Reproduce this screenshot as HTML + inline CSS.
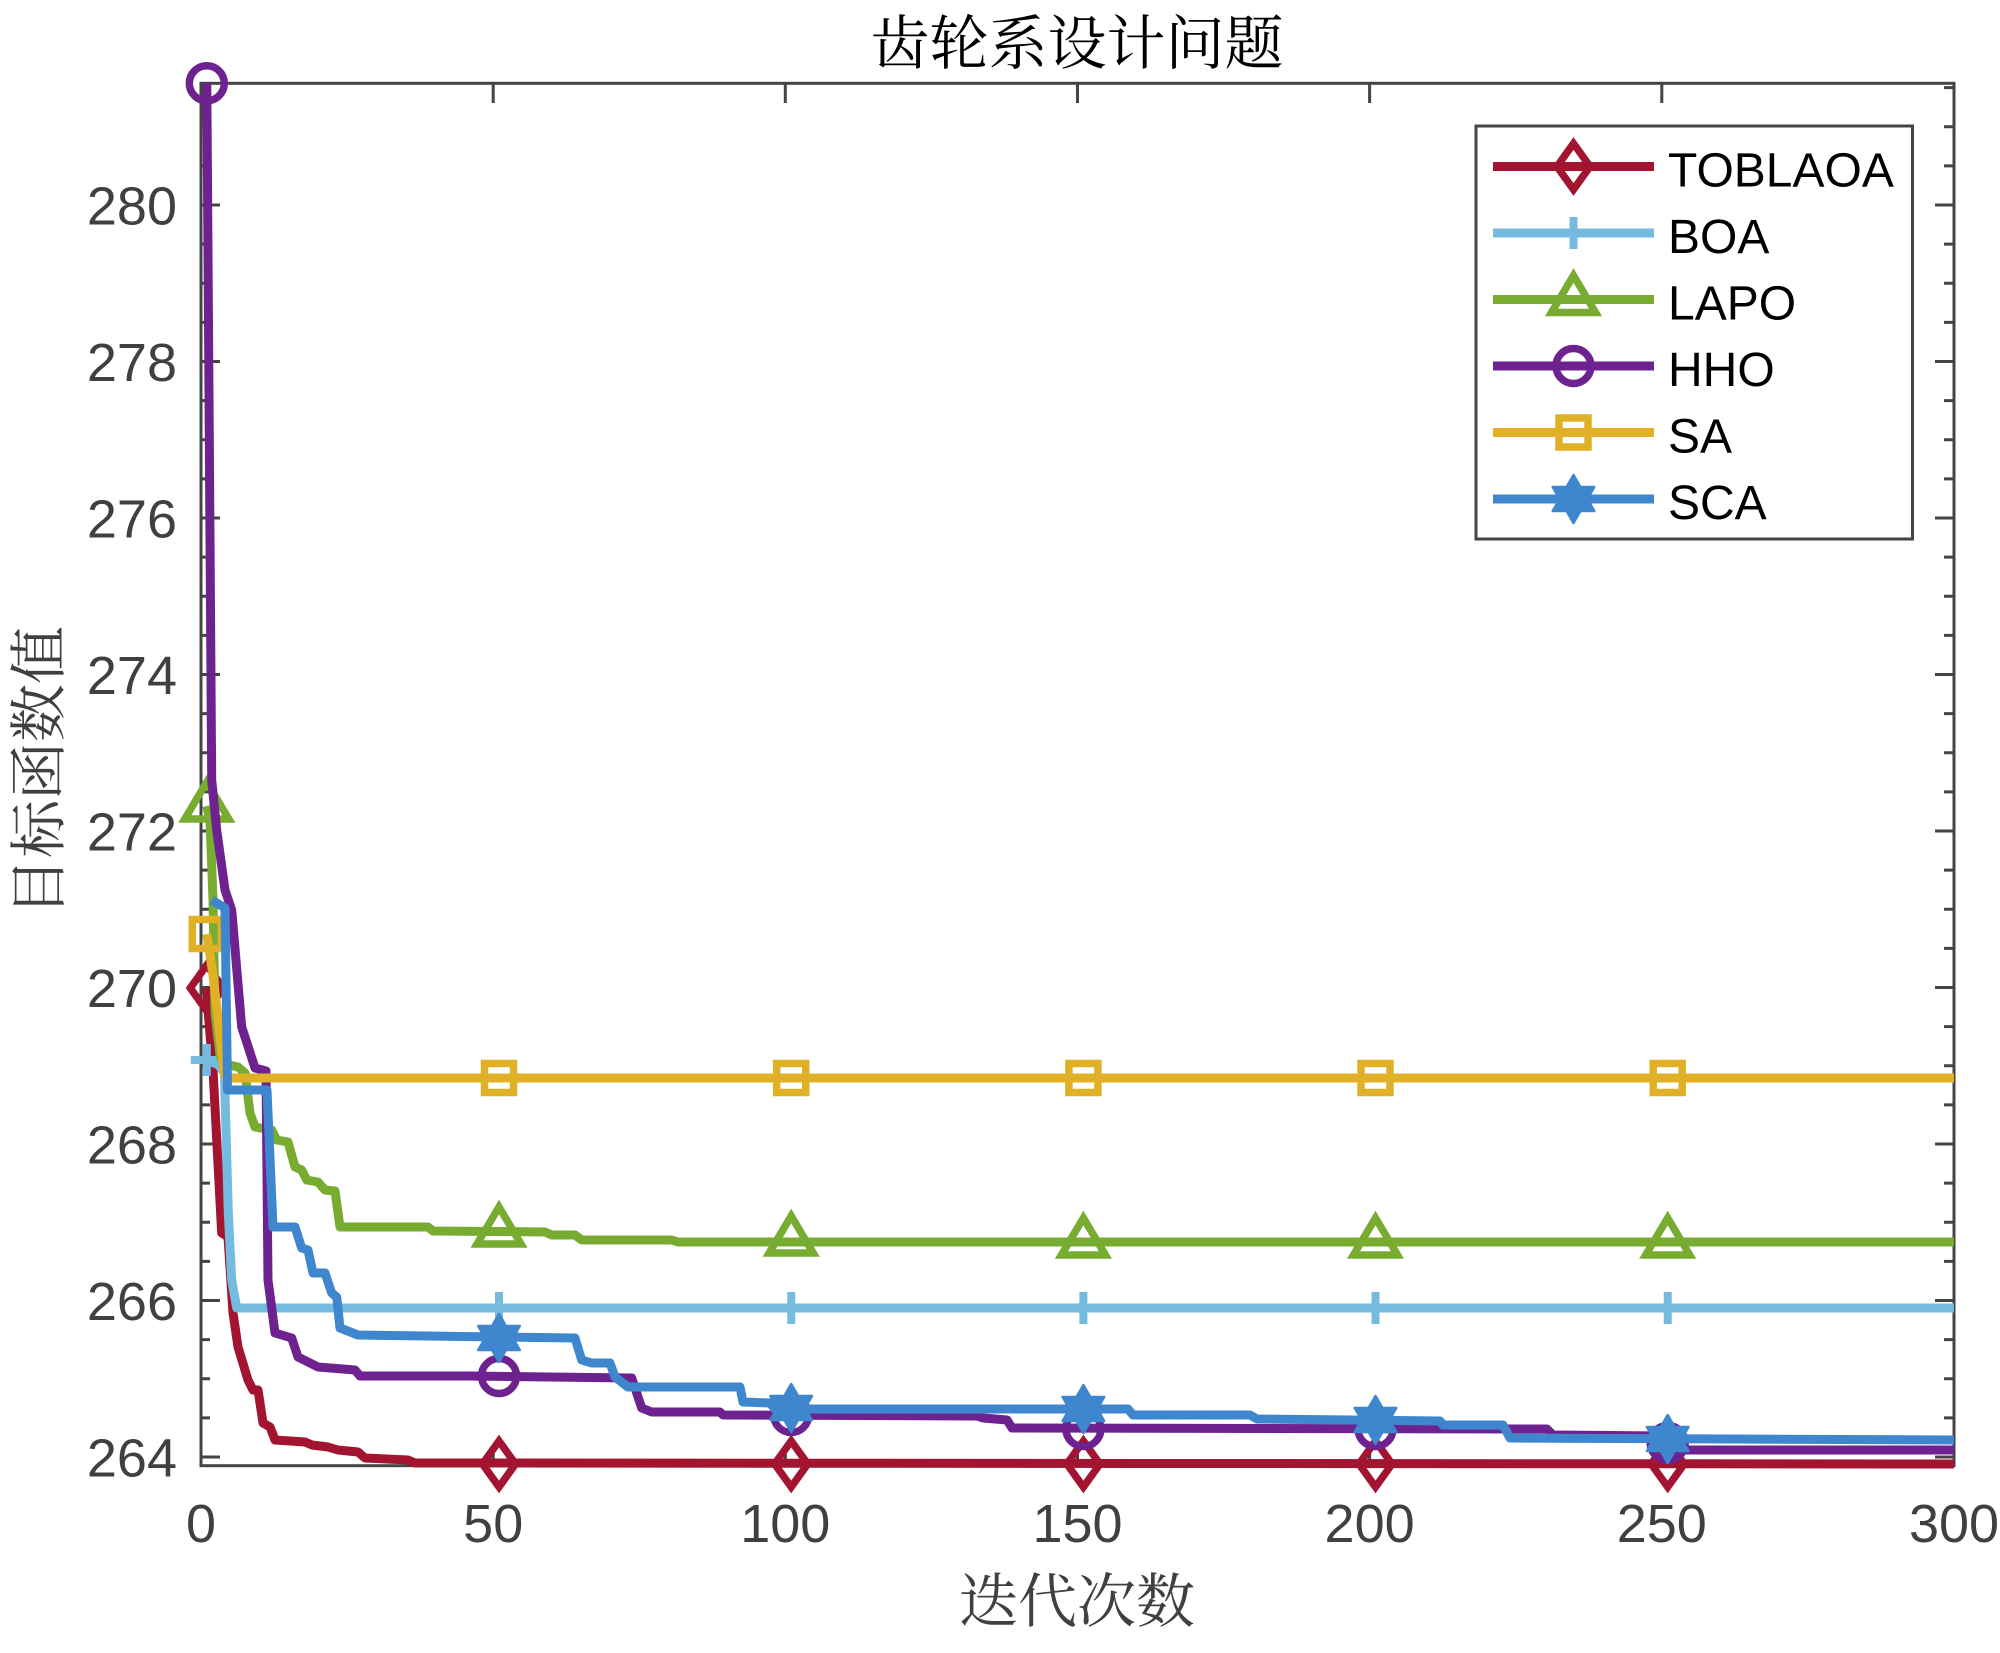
<!DOCTYPE html>
<html>
<head>
<meta charset="utf-8">
<style>
html,body{margin:0;padding:0;background:#fff;}
svg{display:block;}
.tk{font-family:"Liberation Sans",Arial,sans-serif;font-size:54px;fill:#404040;}
.lg{font-family:"Liberation Sans",Arial,sans-serif;font-size:48px;fill:#000;}
.cj{font-family:"Liberation Serif","Noto Serif CJK SC","Noto Sans CJK SC",serif;}
</style>
</head>
<body>
<svg width="2000" height="1653" viewBox="0 0 2000 1653" xmlns="http://www.w3.org/2000/svg">
<rect x="0" y="0" width="2000" height="1653" fill="#fff"/>
<defs>
  <path id="mD" d="M0,-23 L16.5,0 L0,23 L-16.5,0 Z" fill="none" stroke="#A2142F" stroke-width="7.5" stroke-linejoin="miter"/>
  <path id="mP" d="M-16,0 H16 M0,-16 V16" fill="none" stroke="#74BBDF" stroke-width="8"/>
  <path id="mT" d="M0,-24 L22,13 L-22,13 Z" fill="none" stroke="#77AC30" stroke-width="7.5" stroke-linejoin="miter"/>
  <circle id="mC" cx="0" cy="0" r="17.5" fill="none" stroke="#6E2290" stroke-width="7.5"/>
  <rect id="mS" x="-14.5" y="-14.5" width="29" height="29" fill="none" stroke="#E0B126" stroke-width="7.5"/>
  <polygon id="mH" points="0,-24 6.93,-12 20.78,-12 13.86,0 20.78,12 6.93,12 0,24 -6.93,12 -20.78,12 -13.86,0 -20.78,-12 -6.93,-12" fill="#3E87CF" stroke="#3E87CF" stroke-width="2.5" stroke-linejoin="round"/>
</defs>

<!-- axes box -->
<rect x="201" y="83.3" width="1753" height="1382.4" fill="none" stroke="#444" stroke-width="3"/>

<!-- x ticks -->
<path d="M493.2,1465.7V1446 M785.3,1465.7V1446 M1077.5,1465.7V1446 M1369.6,1465.7V1446 M1661.8,1465.7V1446
         M493.2,83.3V103 M785.3,83.3V103 M1077.5,83.3V103 M1369.6,83.3V103 M1661.8,83.3V103" stroke="#444" stroke-width="3" fill="none"/>
<!-- y major ticks -->
<path d="M201,1457H220 M201,1300.5H220 M201,1144H220 M201,987.5H220 M201,831H220 M201,674.5H220 M201,518H220 M201,361.5H220 M201,205H220
         M1954,1457H1935 M1954,1300.5H1935 M1954,1144H1935 M1954,987.5H1935 M1954,831H1935 M1954,674.5H1935 M1954,518H1935 M1954,361.5H1935 M1954,205H1935" stroke="#444" stroke-width="3" fill="none"/>
<!-- y minor ticks -->
<path d="M201,1417.9h9 M201,1378.75h9 M201,1339.6h9 M201,1261.4h9 M201,1222.25h9 M201,1183.1h9 M201,1104.9h9 M201,1065.75h9 M201,1026.6h9 M201,948.4h9 M201,909.25h9 M201,870.1h9 M201,791.9h9 M201,752.75h9 M201,713.6h9 M201,635.4h9 M201,596.25h9 M201,557.1h9 M201,478.9h9 M201,439.75h9 M201,400.6h9 M201,322.4h9 M201,283.25h9 M201,244.1h9 M201,165.9h9 M201,126.75h9 M201,87.6h9
         M1954,1417.9h-10 M1954,1378.75h-10 M1954,1339.6h-10 M1954,1261.4h-10 M1954,1222.25h-10 M1954,1183.1h-10 M1954,1104.9h-10 M1954,1065.75h-10 M1954,1026.6h-10 M1954,948.4h-10 M1954,909.25h-10 M1954,870.1h-10 M1954,791.9h-10 M1954,752.75h-10 M1954,713.6h-10 M1954,635.4h-10 M1954,596.25h-10 M1954,557.1h-10 M1954,478.9h-10 M1954,439.75h-10 M1954,400.6h-10 M1954,322.4h-10 M1954,283.25h-10 M1954,244.1h-10 M1954,165.9h-10 M1954,126.75h-10 M1954,87.6h-10" stroke="#444" stroke-width="3" fill="none"/>

<!-- y tick labels -->
<g class="tk" text-anchor="end">
  <text x="177" y="1476.5">264</text>
  <text x="177" y="1320">266</text>
  <text x="177" y="1163.5">268</text>
  <text x="177" y="1007">270</text>
  <text x="177" y="850.5">272</text>
  <text x="177" y="694">274</text>
  <text x="177" y="537.5">276</text>
  <text x="177" y="381">278</text>
  <text x="177" y="224.5">280</text>
</g>
<!-- x tick labels -->
<g class="tk" text-anchor="middle">
  <text x="201" y="1542">0</text>
  <text x="493.2" y="1542">50</text>
  <text x="785.3" y="1542">100</text>
  <text x="1077.5" y="1542">150</text>
  <text x="1369.6" y="1542">200</text>
  <text x="1661.8" y="1542">250</text>
  <text x="1954" y="1542">300</text>
</g>

<!-- title and axis labels -->
<text class="cj" x="1077" y="64" text-anchor="middle" font-size="59" fill="#000">齿轮系设计问题</text>
<text class="cj" x="1077" y="1622" text-anchor="middle" font-size="59" fill="#404040">迭代次数</text>
<text class="cj" transform="translate(59,771) rotate(-90)" text-anchor="middle" font-size="58" fill="#404040">目标函数值</text>

<!-- series -->
<g fill="none" stroke-width="9" stroke-linejoin="round" stroke-linecap="butt">
  <path stroke="#A2142F" d="M206.8,988 L208,1010 L213,1070 L221.7,1233 L228,1237 L233,1313 L238,1347 L248,1380 L253,1390 L258,1390 L263,1423 L270,1427 L275,1440 L305,1442 L312,1445 L328,1447 L338,1450 L358,1452 L365,1458 L408,1460 L415,1463 L1954,1464"/>
</g>
<use href="#mD" x="206.8" y="988"/><use href="#mD" x="499" y="1464"/><use href="#mD" x="791.2" y="1464"/><use href="#mD" x="1083.4" y="1464"/><use href="#mD" x="1375.5" y="1464"/><use href="#mD" x="1667.7" y="1464"/>

<g fill="none" stroke-width="9" stroke-linejoin="round">
  <path stroke="#74BBDF" d="M206.8,1060 L218.5,1065 L224.4,1073 L228.3,1213 L231.7,1280 L236.7,1308 L1954,1308"/>
</g>
<use href="#mP" x="206.8" y="1060"/><use href="#mP" x="499" y="1308"/><use href="#mP" x="791.2" y="1308"/><use href="#mP" x="1083.4" y="1308"/><use href="#mP" x="1375.5" y="1308"/><use href="#mP" x="1667.7" y="1308"/>

<g fill="none" stroke-width="9" stroke-linejoin="round">
  <path stroke="#77AC30" d="M206.8,806 L210,820 L213,900 L215,1013 L220,1055 L224.4,1064 L238,1067 L245,1073 L250,1113 L255,1127 L271.7,1130 L276.7,1140 L288,1142 L295,1167 L301.7,1170 L306.7,1180 L318,1182 L325,1190 L335,1191 L340,1227 L428,1227 L433,1231 L545,1232 L551.7,1235 L575,1235 L581.7,1240 L671.7,1240 L678,1242 L1954,1242"/>
</g>
<use href="#mT" x="206.8" y="806"/><use href="#mT" x="499" y="1231"/><use href="#mT" x="791.2" y="1240"/><use href="#mT" x="1083.4" y="1242"/><use href="#mT" x="1375.5" y="1242"/><use href="#mT" x="1667.7" y="1242"/>

<g fill="none" stroke-width="9" stroke-linejoin="round">
  <path stroke="#6E2290" d="M206.8,83.3 L211.7,780 L216.7,830 L225,890 L231.7,910 L241.7,1027 L255,1068 L266,1071 L268,1280 L275,1333 L291.7,1338 L298,1357 L318,1367 L355,1370 L360,1376 L468,1376 L631.7,1378 L641.7,1408 L651.7,1412 L720,1412 L723,1415 L977,1416 L983,1418 L1007,1420 L1012,1428 L1547,1429 L1553,1435 L1662,1436 L1667.7,1443 L1673,1450 L1954,1450"/>
</g>
<use href="#mC" x="206.8" y="83.3"/><use href="#mC" x="499" y="1376"/><use href="#mC" x="791.2" y="1415"/><use href="#mC" x="1083.4" y="1429"/><use href="#mC" x="1375.5" y="1429"/><use href="#mC" x="1667.7" y="1443"/>

<g fill="none" stroke-width="9" stroke-linejoin="round">
  <path stroke="#E0B126" d="M206.8,934 L212.7,973 L218.5,1023 L224.4,1074 L226,1078 L1954,1078"/>
</g>
<use href="#mS" x="206.8" y="934"/><use href="#mS" x="499" y="1078"/><use href="#mS" x="791.2" y="1078"/><use href="#mS" x="1083.4" y="1078"/><use href="#mS" x="1375.5" y="1078"/><use href="#mS" x="1667.7" y="1078"/>

<g fill="none" stroke-width="9" stroke-linejoin="round">
  <path stroke="#3E87CF" d="M211.7,900 L225,908 L227.5,1090 L267,1090 L273,1227 L295,1227 L301.7,1248 L308,1250 L313,1273 L325,1273 L331.7,1293 L336.7,1297 L340,1328 L358,1335 L575,1338 L581.7,1360 L591.7,1363 L610,1363 L615,1377 L628,1387 L740,1387 L743,1402 L770,1403 L775,1409 L1128,1409 L1133,1415 L1250,1415 L1257,1419 L1440,1421 L1443,1425 L1503,1425 L1510,1438 L1954,1440"/>
</g>
<use href="#mH" x="499" y="1338"/><use href="#mH" x="791.2" y="1408"/><use href="#mH" x="1083.4" y="1409"/><use href="#mH" x="1375.5" y="1420"/><use href="#mH" x="1667.7" y="1439"/>

<!-- legend -->
<rect x="1476" y="126" width="436.5" height="413" fill="#fff" stroke="#444" stroke-width="3"/>
<g fill="none" stroke-width="9">
  <path stroke="#A2142F" d="M1493,166.5H1654"/>
  <path stroke="#74BBDF" d="M1493,233H1654"/>
  <path stroke="#77AC30" d="M1493,299.5H1654"/>
  <path stroke="#6E2290" d="M1493,366H1654"/>
  <path stroke="#E0B126" d="M1493,432.5H1654"/>
  <path stroke="#3E87CF" d="M1493,499H1654"/>
</g>
<use href="#mD" x="1573.5" y="166.5"/>
<use href="#mP" x="1573.5" y="233"/>
<use href="#mT" x="1573.5" y="299.5"/>
<use href="#mC" x="1573.5" y="366"/>
<use href="#mS" x="1573.5" y="432.5"/>
<use href="#mH" x="1573.5" y="499"/>
<g class="lg">
  <text x="1668" y="186.5">TOBLAOA</text>
  <text x="1668" y="253">BOA</text>
  <text x="1668" y="319.5">LAPO</text>
  <text x="1668" y="386">HHO</text>
  <text x="1668" y="452.5">SA</text>
  <text x="1668" y="519">SCA</text>
</g>
</svg>
</body>
</html>
